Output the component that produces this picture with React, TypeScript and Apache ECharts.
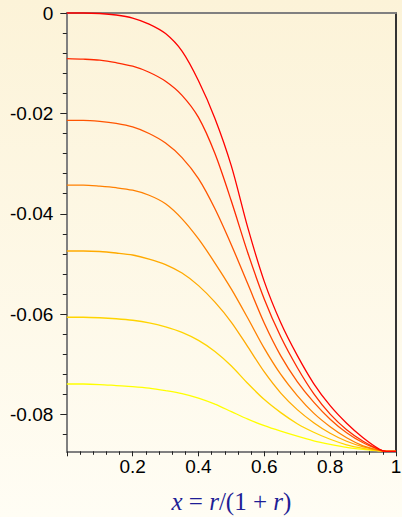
import React, { useEffect, useRef } from 'react';
import * as echarts from 'echarts';

// x positions (x = r/(1+r)) at which values were read
const xValues = [0, 0.05, 0.1, 0.15, 0.2, 0.25, 0.3, 0.35, 0.4, 0.45, 0.5, 0.55, 0.6, 0.65, 0.7, 0.75, 0.8, 0.85, 0.9, 0.95, 0.97, 1];

const curve1 = [0, 0, -0.0001, -0.0004, -0.0010, -0.0022, -0.0041, -0.0076, -0.0135, -0.0210, -0.0305, -0.0428, -0.0535, -0.0617, -0.0682, -0.0738, -0.0782, -0.0817, -0.0846, -0.0869, -0.0873, -0.0873];
const curve2 = [-0.0091, -0.0092, -0.0094, -0.0099, -0.0106, -0.0118, -0.0136, -0.0164, -0.0208, -0.0280, -0.0375, -0.0478, -0.0570, -0.0645, -0.0706, -0.0758, -0.0799, -0.0830, -0.0853, -0.0870, -0.0873, -0.0873];
const curve3 = [-0.0214, -0.0214, -0.0216, -0.0220, -0.0227, -0.0240, -0.0259, -0.0288, -0.0330, -0.0390, -0.0462, -0.0540, -0.0618, -0.0683, -0.0734, -0.0775, -0.0809, -0.0836, -0.0856, -0.0870, -0.0873, -0.0873];
const curve4 = [-0.0343, -0.0343, -0.0345, -0.0348, -0.0353, -0.0363, -0.0380, -0.0410, -0.0450, -0.0498, -0.0550, -0.0608, -0.0668, -0.0720, -0.0762, -0.0797, -0.0824, -0.0846, -0.0862, -0.0871, -0.0873, -0.0873];
const curve5 = [-0.0474, -0.0474, -0.0475, -0.0478, -0.0482, -0.0490, -0.0501, -0.0518, -0.0543, -0.0576, -0.0616, -0.0665, -0.0715, -0.0757, -0.0790, -0.0816, -0.0837, -0.0853, -0.0864, -0.0871, -0.0873, -0.0873];
const curve6 = [-0.0606, -0.0606, -0.0607, -0.0609, -0.0612, -0.0617, -0.0625, -0.0636, -0.0652, -0.0674, -0.0703, -0.0738, -0.0770, -0.0796, -0.0818, -0.0835, -0.0849, -0.0860, -0.0867, -0.0872, -0.0873, -0.0873];
const curve7 = [-0.0739, -0.0739, -0.0740, -0.0742, -0.0744, -0.0747, -0.0752, -0.0758, -0.0767, -0.0779, -0.0794, -0.0809, -0.0822, -0.0833, -0.0843, -0.0852, -0.0859, -0.0865, -0.0869, -0.0872, -0.0873, -0.0873];

const curves = [curve1, curve2, curve3, curve4, curve5, curve6, curve7];
const curveColors = ['#FF0000', '#FF2A00', '#FF5500', '#FF8000', '#FFAA00', '#FFD400', '#FFFF00'];

// axis ticks / labels
const yMin = -0.0873;
const yMax = 0;
const yMajorTicks = [0, -0.02, -0.04, -0.06, -0.08];
const yMinorTicks = [-0.004, -0.008, -0.012, -0.016, -0.024, -0.028, -0.032, -0.036, -0.044, -0.048, -0.052, -0.056, -0.064, -0.068, -0.072, -0.076, -0.084];
const xTickLabels = ['', '0.2', '0.4', '0.6', '0.8', '1'];

export default function App() {
  const ref = useRef<HTMLDivElement>(null);

  useEffect(() => {
    if (!ref.current) return;
    const chart = echarts.init(ref.current, null, { renderer: 'svg' });
    const labelFont = { fontFamily: 'Liberation Sans, Arial, sans-serif', fontSize: 19, color: '#000' };
    const grayLine = { color: '#808080', width: 2 };
    const serif = 'Liberation Serif, Times New Roman, serif';

    const option: any = {
      animation: false,
      backgroundColor: new echarts.graphic.LinearGradient(0, 0, 0, 1, [
        { offset: 0, color: '#FCF3D8' },
        { offset: 1, color: '#FFFDF4' },
      ]),
      grid: { left: 66.8, right: 6, top: 13, bottom: 65.7, containLabel: false, outerBoundsMode: 'none' },
      xAxis: [
        {
          type: 'value',
          position: 'bottom',
          min: 0,
          max: 1,
          interval: 0.2,
          axisLine: { show: true, onZero: false, lineStyle: grayLine },
          axisTick: { show: true, length: 5, lineStyle: { color: '#222', width: 1 } },
          minorTick: { show: true, splitNumber: 5, length: 3.5, lineStyle: { color: '#222', width: 1 } },
          splitLine: { show: false },
          axisLabel: {
            ...labelFont,
            margin: 6,
            formatter: (v: number) => xTickLabels[Math.round(v / 0.2)] ?? '',
          },
          name: '{i|x} = {i|r}/(1 + {i|r})',
          nameLocation: 'middle',
          nameGap: 40,
          nameTextStyle: {
            fontFamily: serif,
            fontSize: 25,
            lineHeight: 20,
            color: '#1E1E96',
            rich: {
              i: { fontFamily: serif, fontStyle: 'italic', fontSize: 25, lineHeight: 20, color: '#1E1E96' },
            },
          },
        },
        {
          type: 'value',
          position: 'top',
          min: 0,
          max: 1,
          axisLine: { show: true, onZero: false, lineStyle: grayLine },
          axisTick: { show: false },
          axisLabel: { show: false },
          splitLine: { show: false },
        },
      ],
      yAxis: [
        {
          type: 'value',
          position: 'left',
          min: yMin,
          max: yMax,
          axisLine: { show: true, onZero: false, lineStyle: grayLine },
          axisTick: { show: true, length: 6.5, lineStyle: { color: '#222', width: 1 }, customValues: yMajorTicks },
          axisLabel: {
            ...labelFont,
            margin: 13.5,
            customValues: yMajorTicks,
            formatter: (v: number) => (Math.abs(v) < 1e-9 ? '0' : v.toFixed(2)),
          },
          splitLine: { show: false },
        },
        {
          type: 'value',
          position: 'left',
          min: yMin,
          max: yMax,
          axisLine: { show: false, onZero: false },
          axisTick: { show: true, length: 4, lineStyle: { color: '#222', width: 1 }, customValues: yMinorTicks },
          axisLabel: { show: false },
          splitLine: { show: false },
        },
        {
          type: 'value',
          position: 'right',
          min: yMin,
          max: yMax,
          axisLine: { show: true, onZero: false, lineStyle: { color: '#333', width: 2 } },
          axisTick: { show: false },
          axisLabel: { show: false },
          splitLine: { show: false },
        },
      ],
      series: curves.map((c, i) => ({
        type: 'line',
        xAxisIndex: 0,
        yAxisIndex: 0,
        data: xValues.map((x, j) => [x, c[j]]),
        showSymbol: false,
        smooth: 0.3,
        clip: false,
        z: 10 - i,
        lineStyle: { color: curveColors[i], width: 1.3 },
      })),
    };

    chart.setOption(option);
    return () => chart.dispose();
  }, []);

  return (
    <div
      ref={ref}
      style={{ position: 'absolute', left: 0, top: 0, width: 402, height: 517 }}
    />
  );
}
